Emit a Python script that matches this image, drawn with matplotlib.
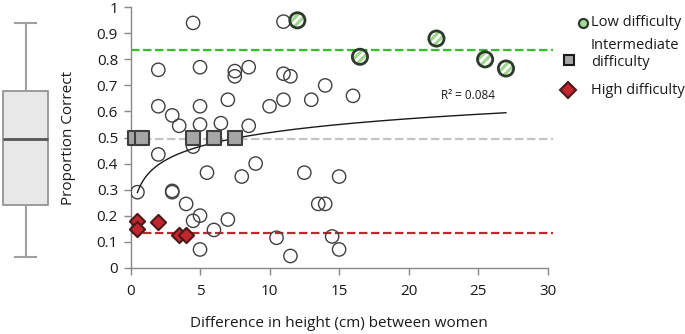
import matplotlib
matplotlib.use("Agg")
import matplotlib.pyplot as plt
import numpy as np
from matplotlib.lines import Line2D

plt.rcParams['font.family'] = ['Open Sans', 'DejaVu Sans']
plt.rcParams['hatch.linewidth'] = 2.0

# ---- data ----
open_x = [4.5, 11.0, 2.0, 5.0, 7.5, 7.5, 8.5, 11.0, 11.5, 14.0, 2.0, 5.0, 7.0, 10.0,
          11.0, 13.0, 16.0, 3.0, 3.5, 5.0, 6.5, 8.5, 2.0, 4.5, 9.0, 5.5, 8.0, 12.5,
          15.0, 0.5, 3.0, 3.0, 4.0, 13.5, 14.0, 4.5, 5.0, 7.0, 6.0, 10.5, 14.5, 5.0,
          11.5, 15.0]
open_y = [0.94, 0.945, 0.76, 0.77, 0.755, 0.735, 0.77, 0.745, 0.735, 0.70, 0.62, 0.62,
          0.645, 0.62, 0.645, 0.645, 0.66, 0.585, 0.545, 0.55, 0.555, 0.545, 0.435,
          0.465, 0.40, 0.365, 0.35, 0.365, 0.35, 0.29, 0.29, 0.295, 0.245, 0.245,
          0.245, 0.18, 0.20, 0.185, 0.145, 0.115, 0.12, 0.07, 0.045, 0.07]

low_x = [12.0, 16.5, 22.0, 25.5, 27.0]
low_y = [0.95, 0.81, 0.88, 0.80, 0.765]

mid_x = [0.35, 0.85, 4.5, 6.0, 7.5]
mid_y = [0.50, 0.50, 0.50, 0.50, 0.50]

high_x = [0.5, 0.5, 2.0, 3.5, 4.0]
high_y = [0.18, 0.15, 0.175, 0.125, 0.125]

ref_low, ref_mid, ref_high = 0.836, 0.495, 0.134

# logarithmic trend y = a + b*ln(x)
trend_a, trend_b = 0.342, 0.0768
trend_range = [0.5, 27.0]
r2_label = "R² = 0.084"

box_stats = dict(med=0.493, q1=0.241, q3=0.679, whislo=0.04, whishi=0.941)

xticks = [0, 5, 10, 15, 20, 25, 30]
yticks = [0, 0.1, 0.2, 0.3, 0.4, 0.5, 0.6, 0.7, 0.8, 0.9, 1]
ytick_labels = ['0', '0.1', '0.2', '0.3', '0.4', '0.5', '0.6', '0.7', '0.8', '0.9', '1']

# ---- figure ----
W, H = 685, 334
fig = plt.figure(figsize=(W / 100, H / 100), dpi=100)

y0 = 1 - 267.7 / H
y1 = 1 - 7.3 / H
ax = fig.add_axes([130.5 / W, y0, (547.7 - 130.5) / W, y1 - y0])
ax.set_xlim(0, 30)
ax.set_ylim(0, 1)

grey = '#888888'
for s in ['top', 'right']:
    ax.spines[s].set_visible(False)
for s in ['left', 'bottom']:
    ax.spines[s].set_color(grey)
    ax.spines[s].set_linewidth(1.0)
ax.tick_params(axis='both', colors=grey, length=5, width=1.0, labelcolor='#1a1a1a',
               labelsize=11, direction='out')
ax.tick_params(axis='y', pad=4)
ax.tick_params(axis='x', pad=7)
ax.set_xticks(xticks)
ax.set_xticklabels([str(t) for t in xticks])
ax.set_yticks(yticks)
ax.set_yticklabels(ytick_labels)

ax.set_xlabel('Difference in height (cm) between women', fontsize=11, color='#1a1a1a', labelpad=12)
ax.set_ylabel('Proportion Correct', fontsize=11, color='#1a1a1a', labelpad=15)

# reference dashed lines
dash = (0, (3.8, 1.6))
ax.plot([0, 30.4], [ref_mid, ref_mid], color='#c4c4c4', lw=1.6, ls=dash, clip_on=False, zorder=1)
ax.plot([0, 30.4], [ref_low, ref_low], color='#33c12a', lw=1.6, ls=dash, clip_on=False, zorder=1)
ax.plot([0, 30.4], [ref_high, ref_high], color='#c0282d', lw=1.6, ls=dash, clip_on=False, zorder=1)

# open circles
ax.scatter(open_x, open_y, s=92, facecolor='none', edgecolor='#404040', linewidths=1.0, zorder=3)

# trend line
tx = np.linspace(trend_range[0], trend_range[1], 300)
ax.plot(tx, trend_a + trend_b * np.log(tx), color='#1a1a1a', lw=1.0, zorder=4)
ax.text(22.3, 0.663, r2_label, fontsize=8.5, color='#1a1a1a', va='center', ha='left')

# low difficulty (hatched green)
ax.scatter(low_x, low_y, s=120, facecolor='#9fd68f', edgecolor='white', hatch='////',
           linewidths=0.1, zorder=5)
ax.scatter(low_x, low_y, s=120, facecolor='none', edgecolor='#2b3a2b', linewidths=2.0, zorder=6)

# intermediate
ax.scatter(mid_x, mid_y, s=100, marker='s', facecolor='#a6a6a6', edgecolor='#3f3f3f',
           linewidths=1.5, zorder=5, clip_on=False)
# high
ax.scatter(high_x, high_y, s=60, marker='D', facecolor='#c0262c', edgecolor='#4a1a1a',
           linewidths=1.5, zorder=5, clip_on=False)

# ---- boxplot ----
bax = fig.add_axes([0, y0, 51 / W, y1 - y0])
bax.set_ylim(0, 1)
bax.set_xlim(0, 1)
bax.bxp([box_stats], positions=[0.5], widths=0.894, capwidths=[0.43], showfliers=False,
        patch_artist=True,
        boxprops=dict(facecolor='#e8e8e8', edgecolor='#8c8c8c', linewidth=1.2),
        medianprops=dict(color='#555555', linewidth=2.0),
        whiskerprops=dict(color='#a0a0a0', linewidth=1.5),
        capprops=dict(color='#a0a0a0', linewidth=1.5))
bax.axis('off')

# ---- legend (manual) ----
def fx(px):
    return px / W

def fy(py):
    return 1 - py / H

lg_fs = 10.5
fig.add_artist(Line2D([fx(583)], [fy(22.5)], transform=fig.transFigure, marker='o', ms=6.5,
                      markerfacecolor='#a9dc9a', markeredgecolor='#2b3a2b', markeredgewidth=1.6,
                      ls='none'))
fig.text(fx(591), fy(22.5), 'Low difficulty', fontsize=lg_fs, va='center', ha='left', color='#1a1a1a')
fig.add_artist(Line2D([fx(569)], [fy(60)], transform=fig.transFigure, marker='s', ms=7,
                      markerfacecolor='#a6a6a6', markeredgecolor='#1a1a1a', markeredgewidth=1.5,
                      ls='none'))
fig.text(fx(591), fy(54), 'Intermediate\ndifficulty', fontsize=lg_fs, va='center', ha='left',
         color='#1a1a1a', linespacing=1.1)
fig.add_artist(Line2D([fx(568)], [fy(90)], transform=fig.transFigure, marker='D', ms=8.5,
                      markerfacecolor='#c0262c', markeredgecolor='#4a1a1a', markeredgewidth=1.5,
                      ls='none'))
fig.text(fx(591), fy(90), 'High difficulty', fontsize=lg_fs, va='center', ha='left', color='#1a1a1a')

fig.savefig('out.png', dpi=100)
